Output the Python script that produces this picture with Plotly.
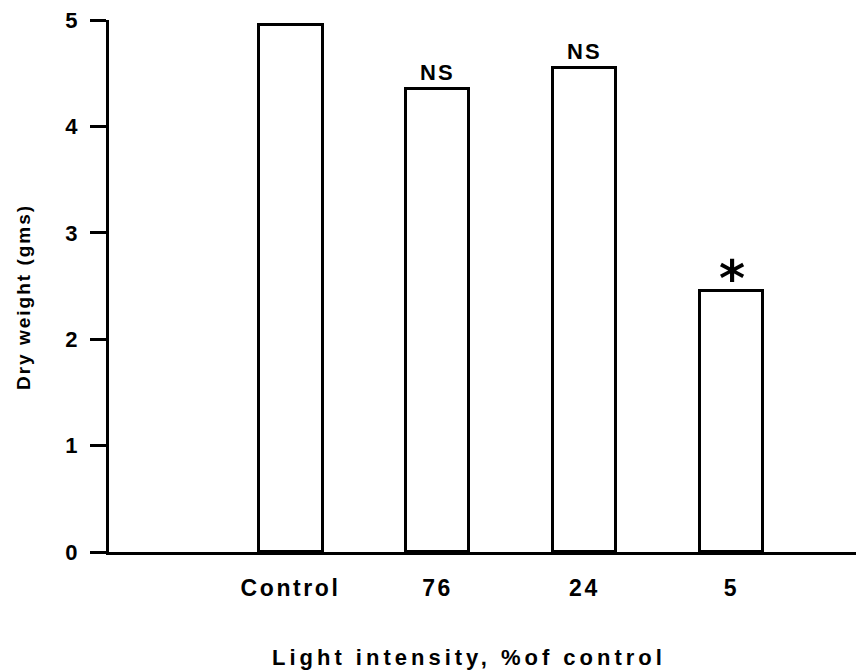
import plotly.graph_objects as go

categories = ["Control", "76", "24", "5"]
positions = [1, 2, 3, 4]
dry_weight = [4.95, 4.35, 4.55, 2.45]
significance = ["", "NS", "NS", "*"]
y_ticks = [0, 1, 2, 3, 4, 5]

FONT = "Liberation Sans"

def spaced(t, px):
    return f'<span style="letter-spacing:{px}px">{t}</span>'

fig = go.Figure()
fig.add_trace(go.Bar(
    x=positions, y=dry_weight, width=0.435,
    marker=dict(color="white", line=dict(color="black", width=3)),
    showlegend=False, hoverinfo="skip",
))

for xp, v, s in zip(positions, dry_weight, significance):
    if not s:
        continue
    if s == "*":
        fig.add_annotation(x=xp, y=v, text="<b>*</b>", showarrow=False, yanchor="bottom",
                           yshift=-19, font=dict(family="DejaVu Sans", size=50, color="black"))
    else:
        fig.add_annotation(x=xp, y=v, text=spaced(s, 2), showarrow=False, yanchor="bottom",
                           yshift=2, font=dict(family=FONT, size=22, color="black", weight="bold"))

fig.add_annotation(
    text=spaced("Dry weight (gms)", 2), xref="paper", yref="paper",
    x=-(109 - 23) / 747, y=(552 - 297) / 532, xanchor="center", yanchor="middle",
    textangle=-90, showarrow=False,
    font=dict(family=FONT, size=19, color="black", weight="bold"))

fig.add_annotation(
    text=spaced("Light intensity, %of control", 4), xref="paper", yref="paper",
    x=(469 - 109) / 747, y=-(657 - 552) / 532, xanchor="center", yanchor="middle",
    showarrow=False,
    font=dict(family=FONT, size=22, color="black", weight="bold"))

fig.update_layout(
    width=860, height=670,
    margin=dict(l=109, r=4, t=20, b=118),
    paper_bgcolor="white", plot_bgcolor="white",
    font=dict(family=FONT, color="black"),
    bargap=0,
)

fig.update_xaxes(
    range=[-0.235, 4.847], tickvals=positions,
    ticktext=[spaced(c, 2.6) for c in categories],
    showline=True, linecolor="black", linewidth=3,
    showgrid=False, zeroline=False, ticks="", ticklabelstandoff=13,
    tickfont=dict(family=FONT, size=23, color="black", weight="bold"),
)
fig.update_yaxes(
    range=[0, 5], tickvals=y_ticks, ticktext=[str(t) for t in y_ticks],
    showline=True, linecolor="black", linewidth=3,
    showgrid=False, zeroline=False, ticks="outside", ticklen=16, tickwidth=3,
    tickcolor="black", ticklabelstandoff=8,
    tickfont=dict(family=FONT, size=22, color="black", weight="bold"),
)

fig.write_html("out.html")
